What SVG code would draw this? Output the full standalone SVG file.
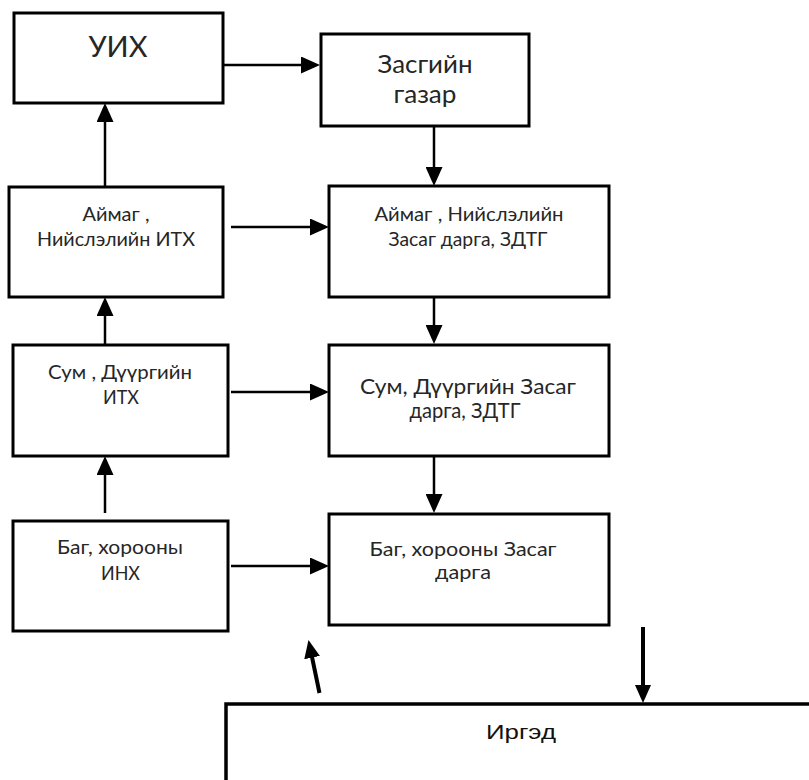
<svg xmlns="http://www.w3.org/2000/svg" width="809" height="780" viewBox="0 0 809 780">
<style>
.box{fill:#fff;stroke:#000;stroke-width:3}
.t{font-family:Lato,"Open Sans","Noto Sans",sans-serif;fill:#262626;text-anchor:middle}
.c{stroke:#000;stroke-width:2.5;fill:none;marker-end:url(#ah)}
.cb{stroke:#000;stroke-width:4;fill:none;marker-end:url(#ahb)}
.r{font-family:"Liberation Sans",Arial,sans-serif;font-weight:400;fill:#111;text-anchor:middle}
</style>
<defs>
<marker id="ah" markerUnits="userSpaceOnUse" viewBox="0 0 19 17" markerWidth="19" markerHeight="17" refX="9" refY="8.5" orient="auto"><path d="M0,0 L19,8.5 L0,17 Z" fill="#000"/></marker>
<marker id="ahb" markerUnits="userSpaceOnUse" viewBox="0 0 18 16" markerWidth="18" markerHeight="16" refX="9" refY="8" orient="auto"><path d="M0,0 L18,8 L0,16 Z" fill="#000"/></marker>
</defs>
<rect width="809" height="780" fill="#fff"/>
<g id="uih"><rect class="box" x="14" y="13" width="209" height="90"/><text class="t" x="118" y="57" font-size="28" textLength="59" lengthAdjust="spacingAndGlyphs">УИХ</text></g>
<g id="zasgiin-gazar"><rect class="box" x="321" y="34" width="208" height="92"/><text class="t" x="425" y="73" font-size="24.5" textLength="95" lengthAdjust="spacingAndGlyphs">Засгийн</text><text class="t" x="425" y="103" font-size="24.5" textLength="63" lengthAdjust="spacingAndGlyphs">газар</text></g>
<g id="aimag-itx"><rect class="box" x="9" y="187" width="214" height="110"/><text class="t" x="116" y="221" font-size="19" textLength="67" lengthAdjust="spacingAndGlyphs">Аймаг ,</text><text class="t" x="116" y="246" font-size="19" textLength="158" lengthAdjust="spacingAndGlyphs">Нийслэлийн ИТХ</text></g>
<g id="aimag-zdtg"><rect class="box" x="329" y="186" width="280" height="111"/><text class="t" x="469" y="221" font-size="19" textLength="189" lengthAdjust="spacingAndGlyphs">Аймаг , Нийслэлийн</text><text class="t" x="468" y="246" font-size="19" textLength="159" lengthAdjust="spacingAndGlyphs">Засаг дарга, ЗДТГ</text></g>
<g id="sum-itx"><rect class="box" x="13" y="345" width="215" height="111"/><text class="t" x="120" y="379" font-size="19" textLength="144" lengthAdjust="spacingAndGlyphs">Сум , Дүүргийн</text><text class="t" x="121" y="404" font-size="19" textLength="36" lengthAdjust="spacingAndGlyphs">ИТХ</text></g>
<g id="sum-zdtg"><rect class="box" x="329" y="345" width="280" height="111"/><text class="t" x="468" y="394" font-size="21" textLength="216" lengthAdjust="spacingAndGlyphs">Сум, Дүүргийн Засаг</text><text class="t" x="465" y="418" font-size="21" textLength="111" lengthAdjust="spacingAndGlyphs">дарга, ЗДТГ</text></g>
<g id="bag-inx"><rect class="box" x="13" y="521" width="215" height="110"/><text class="t" x="120" y="554" font-size="19" textLength="126" lengthAdjust="spacingAndGlyphs">Баг, хорооны</text><text class="t" x="120.5" y="580" font-size="19" textLength="39" lengthAdjust="spacingAndGlyphs">ИНХ</text></g>
<g id="bag-zd"><rect class="box" x="329" y="514" width="280" height="111"/><text class="t" x="463" y="556" font-size="19" textLength="187" lengthAdjust="spacingAndGlyphs">Баг, хорооны Засаг</text><text class="t" x="463" y="579" font-size="19" textLength="56" lengthAdjust="spacingAndGlyphs">дарга</text></g>
<g id="irged"><path d="M226,782 V704 H812" fill="none" stroke="#000" stroke-width="3.5"/><text class="r" x="521" y="739" font-size="21" textLength="70" lengthAdjust="spacingAndGlyphs">Иргэд</text></g>
<g id="connectors">
<path class="c" d="M223,65 H310"/>
<path class="c" d="M434,126 V176"/>
<path class="c" d="M231,227 H319"/>
<path class="c" d="M434,297 V334"/>
<path class="c" d="M231,392 H319"/>
<path class="c" d="M434,456 V503"/>
<path class="c" d="M231,566 H319"/>
<path class="c" d="M105,187 V113"/>
<path class="c" d="M105,345 V307"/>
<path class="c" d="M105,513 V466"/>
<path class="cb" d="M319.5,693 L310.3,648.8"/>
<path class="cb" d="M643,627 V694"/>
</g>
</svg>
